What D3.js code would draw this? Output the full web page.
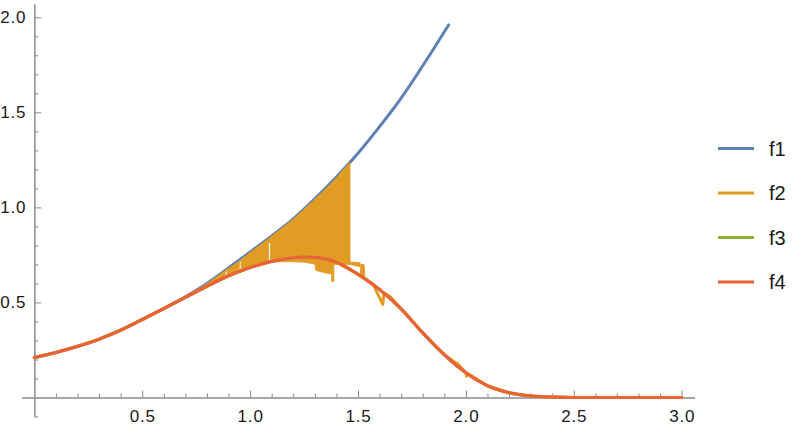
<!DOCTYPE html>
<html>
<head>
<meta charset="utf-8">
<script src="https://cdn.jsdelivr.net/npm/d3@7/dist/d3.min.js"></script>
<style>
  body { margin: 0; background: #fff; }
  text { font-family: "Liberation Sans", Arial, sans-serif; }
</style>
</head>
<body>
<div id="chart"></div>
<script>
// values
var f1X = [0, 0.1, 0.2, 0.3, 0.4, 0.5, 0.6, 0.7, 0.8, 0.9, 1.0, 1.1, 1.2, 1.3, 1.4, 1.5, 1.6, 1.7, 1.8, 1.92];
var f1Y = [0.21, 0.237, 0.269, 0.307, 0.354, 0.41, 0.468, 0.53, 0.6, 0.682, 0.765, 0.85, 0.94, 1.045, 1.16, 1.285, 1.425, 1.575, 1.745, 1.96];

var f4X = [0, 0.1, 0.2, 0.3, 0.4, 0.5, 0.6, 0.7, 0.8, 0.9, 1.0, 1.1, 1.2, 1.25, 1.3, 1.4, 1.5, 1.6, 1.7, 1.8, 1.9, 2.0, 2.1, 2.2, 2.3, 2.4, 2.5, 2.6, 2.8, 3.0];
var f4Y = [0.21, 0.237, 0.269, 0.307, 0.354, 0.41, 0.468, 0.527, 0.585, 0.64, 0.684, 0.716, 0.735, 0.739, 0.737, 0.712, 0.648, 0.568, 0.466, 0.34, 0.225, 0.13, 0.062, 0.025, 0.008, 0.002, 0, 0, 0, 0];

// f3 sits right under f4
var f3X = [0, 0.1, 0.2, 0.3, 0.4, 0.5, 0.6, 0.7, 0.8, 0.9, 1.0, 1.1, 1.2, 1.25, 1.3, 1.4, 1.5, 1.6, 1.7, 1.8, 1.9, 2.0, 2.1, 2.2, 2.3, 2.4, 2.5, 2.6, 2.8, 3.0];
var f3Y = [0.21, 0.237, 0.269, 0.307, 0.354, 0.41, 0.468, 0.527, 0.585, 0.64, 0.684, 0.716, 0.735, 0.739, 0.737, 0.712, 0.648, 0.568, 0.466, 0.34, 0.225, 0.13, 0.062, 0.025, 0.008, 0.002, 0, 0, 0, 0];

// f2 jumps around: the noisy part is a band [x, low, high], the rest a line
var f2Band = [
  [0.72, 0.538, 0.544],
  [0.80, 0.585, 0.598],
  [0.885, 0.632, 0.668],
  [0.885, 0.664, 0.668],
  [0.893, 0.670, 0.674],
  [0.893, 0.636, 0.674],
  [0.95, 0.660, 0.718],
  [0.95, 0.714, 0.718],
  [0.958, 0.720, 0.725],
  [0.958, 0.664, 0.725],
  [1.0, 0.684, 0.763],
  [1.085, 0.708, 0.835],
  [1.085, 0.815, 0.835],
  [1.094, 0.815, 0.843],
  [1.094, 0.712, 0.843],
  [1.15, 0.714, 0.893],
  [1.2, 0.714, 0.938],
  [1.25, 0.712, 0.990],
  [1.30, 0.702, 1.043],
  [1.305, 0.668, 1.048],
  [1.36, 0.652, 1.108],
  [1.378, 0.650, 1.128],
  [1.378, 0.610, 1.128],
  [1.388, 0.610, 1.140],
  [1.388, 0.700, 1.140],
  [1.43, 0.700, 1.195],
  [1.463, 0.700, 1.238],
  [1.463, 0.700, 0.713],
  [1.51, 0.688, 0.710],
  [1.51, 0.690, 0.690]
];
var f2X = [0, 0.1, 0.2, 0.3, 0.4, 0.5, 0.6, 0.7, 0.8, 0.9, 1.0, 1.1, 1.2, 1.3, 1.4, 1.5, 1.515, 1.518, 1.524, 1.527, 1.57, 1.615, 1.62, 1.65, 1.7, 1.8, 1.9, 1.955, 1.957, 1.96, 2.0, 2.003, 2.007, 2.1, 2.2, 2.3, 2.4, 2.5, 3.0];
var f2Y = [0.21, 0.237, 0.269, 0.307, 0.354, 0.41, 0.468, 0.527, 0.585, 0.64, 0.684, 0.716, 0.735, 0.737, 0.712, 0.648, 0.638, 0.695, 0.695, 0.632, 0.595, 0.49, 0.55, 0.53, 0.466, 0.34, 0.225, 0.18, 0.165, 0.18, 0.13, 0.112, 0.128, 0.062, 0.025, 0.008, 0.002, 0, 0];

var xTickLabels = ["0.5", "1.0", "1.5", "2.0", "2.5", "3.0"];
var yTickLabels = ["0.5", "1.0", "1.5", "2.0"];
var seriesNames = ["f1", "f2", "f3", "f4"];

var colors = { f1: "#5e81b5", f2: "#e19c24", f3: "#8fb032", f4: "#eb6235" };

var svgWidth = 800;
var svgHeight = 433;

var svg = d3.select("#chart")
  .append("svg")
  .attr("width", svgWidth)
  .attr("height", svgHeight);

// plot range padded a little like Mathematica does
var xScale = d3.scaleLinear().domain([-0.06, 3.06]).range([21.4, 694.6]);
var yScale = d3.scaleLinear().domain([-0.1, 2.07]).range([416.5, 4.0]);

var axisColor = "#8a8a8a";

var xMajor = xTickLabels.map(Number);
var yMajor = yTickLabels.map(Number);
var xMinor = d3.range(1, 31).map(function(i) { return i / 10; })
  .filter(function(v) { return xMajor.indexOf(v) < 0; });
var yMinor = d3.range(-1, 21).map(function(i) { return i / 10; })
  .filter(function(v) { return v !== 0 && yMajor.indexOf(v) < 0; });

// x axis
var xAxisG = svg.append("g")
  .attr("transform", "translate(0," + yScale(0) + ")");
xAxisG.append("g")
  .call(d3.axisBottom(xScale).tickValues(xMinor).tickSize(-4).tickSizeOuter(0).tickFormat(""));
xAxisG.append("g")
  .attr("class", "xlab")
  .call(d3.axisBottom(xScale).tickValues(xMajor).tickSize(-7).tickSizeOuter(0).tickPadding(12.5)
    .tickFormat(function(d, i) { return xTickLabels[i]; }));

// y axis
var yAxisG = svg.append("g")
  .attr("transform", "translate(" + xScale(0) + ",0)");
yAxisG.append("g")
  .call(d3.axisLeft(yScale).tickValues(yMinor).tickSize(-4).tickSizeOuter(0).tickFormat(""));
yAxisG.append("g")
  .call(d3.axisLeft(yScale).tickValues(yMajor).tickSize(-7).tickSizeOuter(0).tickPadding(8)
    .tickFormat(function(d, i) { return yTickLabels[i]; }));

svg.selectAll(".domain").attr("stroke", axisColor).attr("stroke-width", 1);
svg.selectAll(".tick line").attr("stroke", axisColor).attr("stroke-width", 1);
svg.selectAll(".tick text")
  .attr("fill", "#1a1a1a")
  .style("font-size", "17px")
  .style("letter-spacing", "0.8px")
  .style("font-family", "'Liberation Sans', Arial, sans-serif");

// curves
var line = d3.line()
  .x(function(d) { return xScale(d[0]); })
  .y(function(d) { return yScale(d[1]); })
  .curve(d3.curveMonotoneX);

var rawLine = d3.line()
  .x(function(d) { return xScale(d[0]); })
  .y(function(d) { return yScale(d[1]); });

function zipXY(xs, ys) {
  return xs.map(function(x, i) { return [x, ys[i]]; });
}

var plot = svg.append("g");

plot.append("path")
  .attr("d", line(zipXY(f1X, f1Y)))
  .attr("fill", "none")
  .attr("stroke", colors.f1)
  .attr("stroke-width", 3)
  .attr("stroke-linecap", "round");

var band = d3.area()
  .x(function(d) { return xScale(d[0]); })
  .y0(function(d) { return yScale(d[1]); })
  .y1(function(d) { return yScale(d[2]); });

plot.append("path")
  .attr("d", band(f2Band))
  .attr("fill", colors.f2)
  .attr("stroke", colors.f2)
  .attr("stroke-width", 0.8);

plot.append("path")
  .attr("d", rawLine(zipXY(f2X, f2Y)))
  .attr("fill", "none")
  .attr("stroke", colors.f2)
  .attr("stroke-width", 3)
  .attr("stroke-linejoin", "round");

plot.append("path")
  .attr("d", line(zipXY(f3X, f3Y)))
  .attr("fill", "none")
  .attr("stroke", colors.f3)
  .attr("stroke-width", 3);

plot.append("path")
  .attr("d", line(zipXY(f4X, f4Y)))
  .attr("fill", "none")
  .attr("stroke", colors.f4)
  .attr("stroke-width", 3.2)
  .attr("stroke-linecap", "round");

// legend
var legend = svg.append("g")
  .attr("transform", "translate(718, 148.5)");

var items = legend.selectAll("g")
  .data(seriesNames)
  .enter()
  .append("g")
  .attr("transform", function(d, i) { return "translate(0," + (i * 44.5) + ")"; });

items.append("line")
  .attr("x1", 0)
  .attr("x2", 36)
  .attr("y1", 0)
  .attr("y2", 0)
  .attr("stroke", function(d) { return colors[d]; })
  .attr("stroke-width", 3);

items.append("text")
  .attr("x", 51)
  .attr("y", 7)
  .attr("fill", "#1a1a1a")
  .style("font-size", "20px")
  .text(function(d) { return d; });
</script>
</body>
</html>
